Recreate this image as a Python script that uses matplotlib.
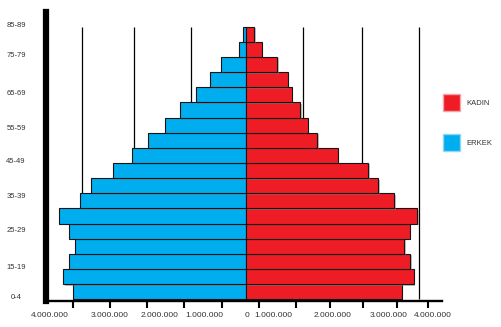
import matplotlib
matplotlib.use("Agg")
import matplotlib.pyplot as plt
import matplotlib.patheffects as pe
from matplotlib.patches import Patch

plt.rcParams['font.family'] = ['Liberation Sans', 'DejaVu Sans']

# yas gruplari (alttan uste)
yas_gruplari = ["0-4", "5-9", "10-14", "15-19", "20-24", "25-29", "30-34", "35-39",
                "40-44", "45-49", "50-54", "55-59", "60-64", "65-69", "70-74",
                "75-79", "80-84", "85-89"]
erkek = [3060000, 3230000, 3130000, 3020000, 3130000, 3300000, 2930000, 2730000,
         2350000, 2020000, 1730000, 1430000, 1170000, 880000, 640000,
         430000, 120000, 40000]
kadin = [2760000, 2980000, 2910000, 2810000, 2900000, 3040000, 2630000, 2350000,
         2170000, 1630000, 1270000, 1100000, 970000, 820000, 740000,
         560000, 290000, 150000]

yas_etiketleri = ["0-4", "15-19", "25-29", "35-39", "45-49", "55-59", "65-69", "75-79", "85-89"]
x_etiketleri = ["4.000.000", "3.000.000", "2.000.000", "1.000.000", "0",
                "1.000.000", "2.000.000", "3.000.000", "4.000.000"]

# yerlesim (orijinaldeki kaymis etiket ve cizgi konumlari)
etiket_y = [-0.33, 1.65, 4.08, 6.34, 8.65, 10.86, 13.17, 15.68, 17.66]
etiket_x = [v * 1e6 for v in [-3.464, -2.407, -1.517, -0.738, 0.018, 0.488, 1.540, 2.524, 3.310]]
tik_x = [v * 1e6 for v in [-3.062, -2.402, -1.752, -1.092, -0.425, 0.235, 0.885,
                           1.492, 2.081, 2.673, 3.221]]
izgara_x = [v * 1e6 for v in [-2.903, -1.972, -0.963, 1.019, 2.064, 3.073]]

MAVI = '#00adef'
KIRMIZI = '#ee1d25'

fig = plt.figure(figsize=(5.01, 3.27), dpi=100)
ax = fig.add_axes([0.0916, 0.081, 0.7906, 0.8823])

ax.vlines(izgara_x, -0.5, len(yas_gruplari) - 0.5, color='black', lw=0.9, zorder=1)

golge = [pe.SimplePatchShadow(offset=(1, -1), shadow_rgbFace='gray', alpha=0.5), pe.Normal()]
y = list(range(len(yas_gruplari)))
ax.barh(y, [-v for v in erkek], height=1.0, color=MAVI, edgecolor='#151515',
        lw=0.8, zorder=2, path_effects=golge)
ax.barh(y, kadin, height=1.0, color=KIRMIZI, edgecolor='#151515',
        lw=0.8, zorder=2, path_effects=golge)

ax.set_xlim(-3.536e6, 3.474e6)
ax.set_ylim(-0.58, 18.47)

for s in ['top', 'right']:
    ax.spines[s].set_visible(False)
ax.spines['left'].set_linewidth(4.5)
ax.spines['bottom'].set_linewidth(1.7)

ax.set_xticks(tik_x)
ax.set_xticklabels([])
ax.set_xticks(etiket_x, x_etiketleri, minor=True)
ax.tick_params(axis='x', which='major', length=4.7, width=1.5, direction='out')
ax.tick_params(axis='x', which='minor', length=0, pad=8.5, labelsize=6, labelcolor='#333333')

ax.set_yticks(etiket_y, yas_etiketleri)
ax.tick_params(axis='y', length=0, pad=21.5, labelsize=5.5, labelcolor='#333333')
for t in ax.get_yticklabels():
    t.set_ha('center')

handles = [Patch(facecolor=KIRMIZI, edgecolor='#f5a3a6', label='KADIN'),
           Patch(facecolor=MAVI, edgecolor='#8fd8f5', label='ERKEK')]
fig.legend(handles=handles, loc='upper left', bbox_to_anchor=(443.3 / 501, 1 - 94.3 / 327),
           frameon=False, fontsize=5.5, handlelength=2.22, handleheight=3.05,
           handletextpad=0.75, labelspacing=2.98, borderpad=0, borderaxespad=0,
           labelcolor='#333333')

fig.savefig('out.png', dpi=100)
